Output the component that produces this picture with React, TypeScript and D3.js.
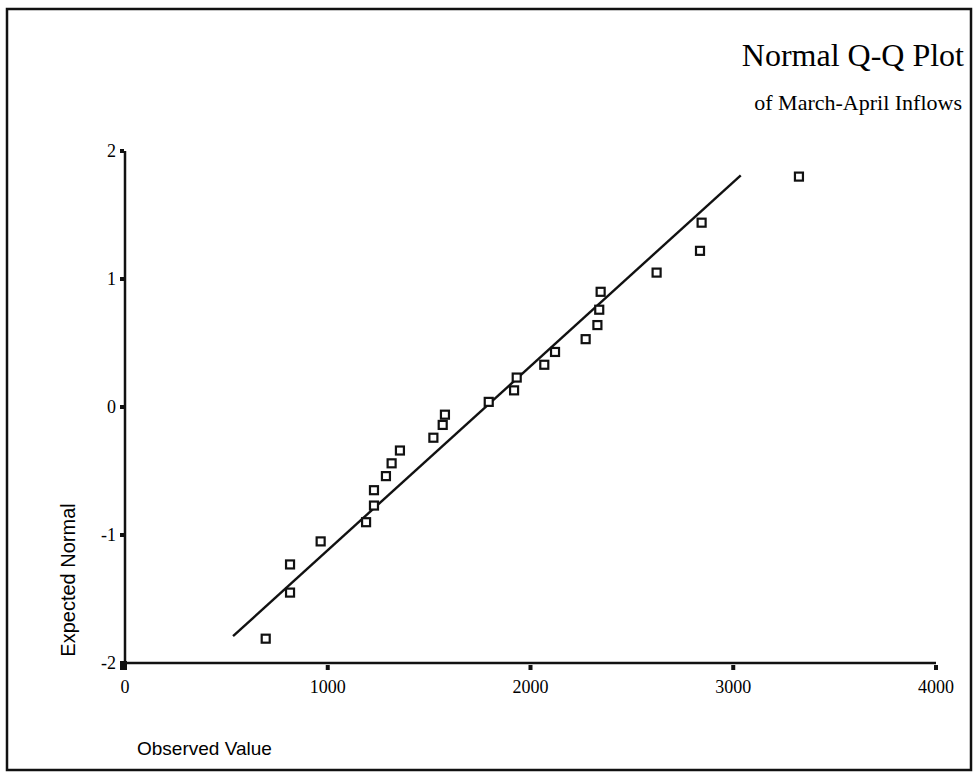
import { useEffect, useRef } from "react"
import * as d3 from "d3"

// observed inflows (x) and expected normal quantiles (y)
const observed = [694, 814, 814, 965, 1189, 1228, 1228, 1287, 1315, 1356, 1521, 1567, 1578, 1794, 1919, 1932, 2068, 2121, 2272, 2330, 2339, 2346, 2622, 2836, 2844, 3324]
const expected = [-1.81, -1.45, -1.23, -1.05, -0.9, -0.77, -0.65, -0.54, -0.44, -0.34, -0.24, -0.14, -0.06, 0.04, 0.13, 0.23, 0.33, 0.43, 0.53, 0.64, 0.76, 0.9, 1.05, 1.22, 1.44, 1.8]

// reference line end points
const lineX = [533, 3037]
const lineY = [-1.79, 1.81]

const xTicks = [0, 1000, 2000, 3000, 4000]
const yTicks = [-2, -1, 0, 1, 2]

const title = "Normal Q-Q Plot"
const subtitle = "of March-April Inflows"
const xLabel = "Observed Value"
const yLabel = "Expected Normal"

const W = 974
const H = 772
const serif = "'Liberation Serif', 'Times New Roman', serif"
const sans = "'Liberation Sans', Arial, sans-serif"

export default function App() {
  const svgRef = useRef<SVGSVGElement>(null)

  useEffect(() => {
    if (!svgRef.current) return
    const svg = d3.select(svgRef.current)
    svg.selectAll("*").remove()

    svg.append("rect").attr("width", W).attr("height", H).attr("fill", "white")

    // outer frame
    svg.append("rect").attr("x", 7).attr("y", 9).attr("width", 964).attr("height", 761).attr("fill", "none").attr("stroke", "#111").attr("stroke-width", 2.5)

    const x = d3.scaleLinear().domain([0, 4000]).range([125, 936])
    const y = d3.scaleLinear().domain([-2, 2]).range([663, 151])

    // axes
    svg.append("line").attr("x1", x(0)).attr("x2", x(0)).attr("y1", y(2)).attr("y2", y(-2)).attr("stroke", "#111").attr("stroke-width", 2.5)
    svg.append("line").attr("x1", x(0)).attr("x2", x(4000)).attr("y1", y(-2)).attr("y2", y(-2)).attr("stroke", "#111").attr("stroke-width", 2.5)

    // y ticks
    svg.selectAll(".ytick")
      .data(yTicks)
      .enter()
      .append("rect")
      .attr("x", x(0) - 5)
      .attr("y", (d) => y(d) - 2)
      .attr("width", 4)
      .attr("height", 4)
      .attr("fill", "#111")

    svg.selectAll(".ylab")
      .data(yTicks)
      .enter()
      .append("text")
      .attr("x", x(0) - 9)
      .attr("y", (d) => y(d) + 6)
      .attr("text-anchor", "end")
      .style("font-family", serif)
      .style("font-size", "18px")
      .text((d) => d)

    // x ticks
    svg.selectAll(".xtick")
      .data(xTicks)
      .enter()
      .append("rect")
      .attr("x", (d) => x(d) - 2)
      .attr("y", y(-2) + 2)
      .attr("width", 4)
      .attr("height", 5)
      .attr("fill", "#111")

    svg.append("rect").attr("x", x(0) - 5).attr("y", y(-2) - 2).attr("width", 7).attr("height", 9).attr("fill", "#111")

    svg.selectAll(".xlab")
      .data(xTicks)
      .enter()
      .append("text")
      .attr("x", (d) => x(d))
      .attr("y", y(-2) + 30)
      .attr("text-anchor", "middle")
      .style("font-family", serif)
      .style("font-size", "18px")
      .text((d) => d)

    // reference line
    const line = d3
      .line<number>()
      .x((d) => x(lineX[d]))
      .y((d) => y(lineY[d]))
    svg.append("path").datum([0, 1]).attr("fill", "none").attr("stroke", "#111").attr("stroke-width", 2.4).attr("d", line)

    // points
    const s = 8
    svg.selectAll(".pt")
      .data(observed)
      .enter()
      .append("rect")
      .attr("x", (d) => x(d) - s / 2)
      .attr("y", (d, i) => y(expected[i]) - s / 2)
      .attr("width", s)
      .attr("height", s)
      .attr("fill", "white")
      .attr("stroke", "#111")
      .attr("stroke-width", 2.2)

    // titles
    svg.append("text").attr("x", 964).attr("y", 66).attr("text-anchor", "end").style("font-family", serif).style("font-size", "32px").text(title)
    svg.append("text").attr("x", 962).attr("y", 110).attr("text-anchor", "end").style("font-family", serif).style("font-size", "22px").text(subtitle)

    svg.append("text")
      .attr("transform", `translate(75,580) rotate(-90)`)
      .attr("text-anchor", "middle")
      .style("font-family", sans)
      .style("font-size", "20px")
      .text(yLabel)

    svg.append("text").attr("x", 137).attr("y", 755).style("font-family", sans).style("font-size", "19px").text(xLabel)
  }, [])

  return <svg ref={svgRef} width={W} height={H} style={{ position: "absolute", left: 0, top: 0, display: "block" }} />
}
